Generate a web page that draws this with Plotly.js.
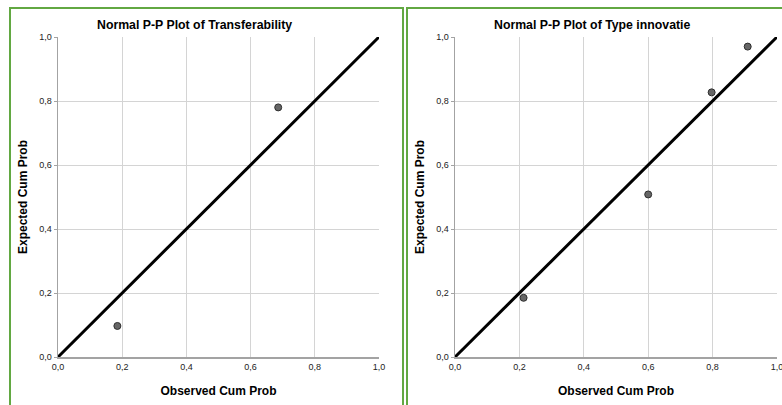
<!DOCTYPE html>
<html>
<head>
<meta charset="utf-8">
<script src="https://cdn.plot.ly/plotly-3.0.1.min.js"></script>
<style>
  html, body { margin: 0; padding: 0; background: #fff; }
  #chart { width: 782px; height: 405px; }
</style>
</head>
<body>
<div id="chart"></div>
<script>
// Normal P-P plots: observed vs expected cumulative probability
const transferObserved = [0.185, 0.686];
const transferExpected = [0.097, 0.780];

const typeObserved = [0.213, 0.600, 0.797, 0.909];
const typeExpected = [0.185, 0.508, 0.827, 0.970];

// reference diagonal (expected = observed)
const diagonal = [0, 1];

const tickValues = [0, 0.2, 0.4, 0.6, 0.8, 1.0];

const panelTitles = ['Normal P-P Plot of Transferability', 'Normal P-P Plot of Type innovatie'];
const xTitle = 'Observed Cum Prob';
const yTitle = 'Expected Cum Prob';

const font = 'Liberation Sans, Arial, sans-serif';
const green = 'rgb(98,168,66)';

const pointStyle = { size: 7, color: '#666', line: { color: '#2e2e2e', width: 1 } };
const lineStyle = { color: '#000', width: 3 };

const traces = [
  { x: diagonal, y: diagonal, mode: 'lines', line: lineStyle, xaxis: 'x', yaxis: 'y', hoverinfo: 'skip' },
  { x: transferObserved, y: transferExpected, mode: 'markers', marker: pointStyle, xaxis: 'x', yaxis: 'y', cliponaxis: false },
  { x: diagonal, y: diagonal, mode: 'lines', line: lineStyle, xaxis: 'x2', yaxis: 'y2', hoverinfo: 'skip' },
  { x: typeObserved, y: typeExpected, mode: 'markers', marker: pointStyle, xaxis: 'x2', yaxis: 'y2', cliponaxis: false }
];

function xAxis(domain, anchor) {
  return {
    domain: domain, anchor: anchor, range: [0, 1],
    tickvals: tickValues, tickformat: '.1f',
    ticks: '', showline: true, linecolor: '#a3a3a3', linewidth: 2,
    showgrid: true, gridcolor: '#d4d4d4', gridwidth: 1, zeroline: false,
    ticklabeloverflow: 'allow',
    tickfont: { family: font, size: 9, color: '#222' },
    title: { text: xTitle, font: { family: font, size: 12, color: '#000', weight: 'bold' }, standoff: 16 }
  };
}
function yAxis(domain, anchor) {
  return {
    domain: domain, anchor: anchor, range: [0, 1],
    tickvals: tickValues, tickformat: '.1f',
    ticks: 'outside', ticklen: 3, tickcolor: '#a3a3a3',
    showline: true, linecolor: '#a3a3a3', linewidth: 1.5,
    showgrid: true, gridcolor: '#d4d4d4', gridwidth: 1, zeroline: false,
    tickfont: { family: font, size: 9, color: '#222' },
    title: { text: yTitle, font: { family: font, size: 12, color: '#000', weight: 'bold' }, standoff: 9 }
  };
}

const yDom = [48 / 405, 368 / 405];

const layout = {
  width: 782, height: 405,
  margin: { l: 0, r: 0, t: 0, b: 0 },
  paper_bgcolor: '#fff', plot_bgcolor: '#fff',
  showlegend: false,
  separators: ',.',
  xaxis: xAxis([58 / 782, 379 / 782], 'y'),
  yaxis: yAxis(yDom, 'x'),
  xaxis2: xAxis([455 / 782, 777 / 782], 'y2'),
  yaxis2: yAxis(yDom, 'x2'),
  annotations: [
    { text: panelTitles[0], xref: 'paper', yref: 'paper', x: 194 / 782, y: 1 - 25 / 405, xanchor: 'center', yanchor: 'middle', showarrow: false,
      font: { family: font, size: 12.3, color: '#000', weight: 'bold' } },
    { text: panelTitles[1], xref: 'paper', yref: 'paper', x: 592 / 782, y: 1 - 25 / 405, xanchor: 'center', yanchor: 'middle', showarrow: false,
      font: { family: font, size: 12.3, color: '#000', weight: 'bold' } }
  ],
  shapes: [
    { type: 'rect', xref: 'paper', yref: 'paper', x0: 10 / 782, x1: 403 / 782, y0: -0.1, y1: 1 - 8 / 405, line: { color: green, width: 2 }, layer: 'below' },
    { type: 'rect', xref: 'paper', yref: 'paper', x0: 407 / 782, x1: 1.1, y0: -0.1, y1: 1 - 8 / 405, line: { color: green, width: 2 }, layer: 'below' }
  ]
};

Plotly.newPlot('chart', traces, layout, { staticPlot: true, displayModeBar: false });
</script>
</body>
</html>
